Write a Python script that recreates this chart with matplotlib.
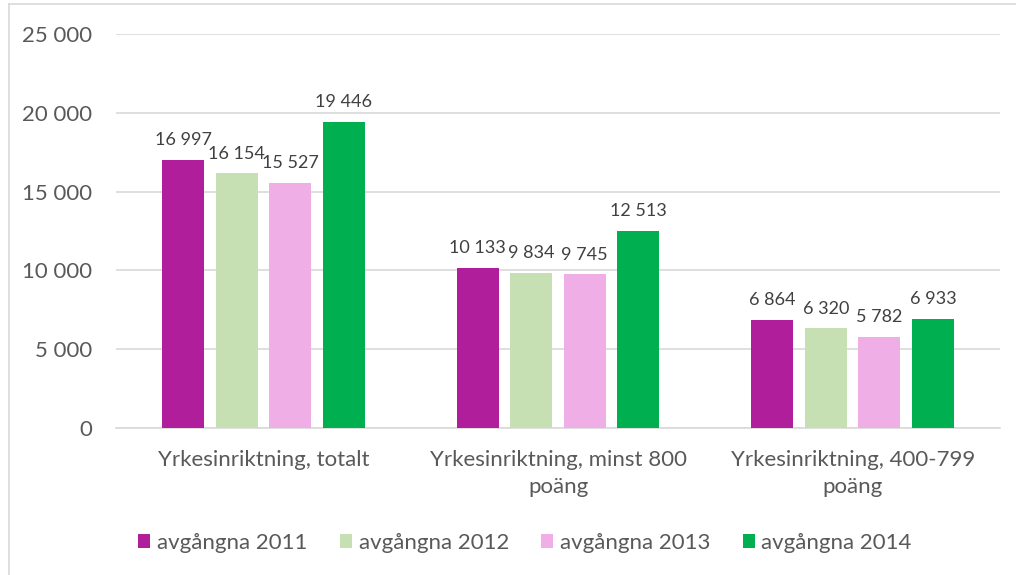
import matplotlib
matplotlib.use("Agg")
import matplotlib.pyplot as plt
from matplotlib.patches import Patch
from matplotlib.lines import Line2D
import numpy as np

categories = ["Yrkesinriktning, totalt", "Yrkesinriktning, minst 800\npoäng", "Yrkesinriktning, 400-799\npoäng"]
series_names = ["avgångna 2011", "avgångna 2012", "avgångna 2013", "avgångna 2014"]
v2011 = [16997, 10133, 6864]
v2012 = [16154, 9834, 6320]
v2013 = [15527, 9745, 5782]
v2014 = [19446, 12513, 6933]
colors = ["#B01E9B", "#C6E0B4", "#F0AEE6", "#00B050"]
yticks = [0, 5000, 10000, 15000, 20000, 25000]

def fmt(v):
    return f"{v:,}".replace(",", " ")

plt.rcParams['font.family'] = ['Lato', 'DejaVu Sans']
text_color = "#595959"

fig = plt.figure(figsize=(10.16, 5.75), dpi=100)
ax = fig.add_axes([116/1016, 1-428/575, (1000-116)/1016, (428-34)/575])

x = np.arange(len(categories))
bw = 0.1425
step = 0.1815
all_vals = [v2011, v2012, v2013, v2014]
for i, (vals, c, name) in enumerate(zip(all_vals, colors, series_names)):
    pos = x + (i - 1.5) * step
    ax.bar(pos, vals, width=bw, color=c, label=name, zorder=3)
    for p, v in zip(pos, vals):
        ax.text(p, v + 750, fmt(v), ha="center", va="bottom", fontsize=13, color="#404040")

ax.set_xlim(-0.5, 2.5)
ax.set_ylim(0, 25000)
ax.set_yticks(yticks)
ax.set_yticklabels([fmt(v) for v in yticks], fontsize=16, color=text_color)
ax.set_xticks(x)
ax.set_xticklabels(categories, fontsize=16, color=text_color, linespacing=1.42)
ax.tick_params(axis="both", length=0)
ax.tick_params(axis="y", pad=17)
ax.tick_params(axis="x", pad=16)
ax.grid(axis="y", color="#D9D9D9", linewidth=1.2, zorder=0)
for s in ["top", "right", "left"]:
    ax.spines[s].set_visible(False)
ax.spines["bottom"].set_color("#D9D9D9")
ax.spines["bottom"].set_linewidth(1.2)

handles = [Patch(facecolor=c, edgecolor="none") for c in colors]
fig.legend(handles, series_names, loc="center", bbox_to_anchor=(525/1016, 1-543/575),
           ncol=4, frameon=False, fontsize=16, labelcolor=text_color,
           handlelength=0.55, handleheight=0.55, handletextpad=0.3, columnspacing=1.45)

# outer chart border (only top and left visible)
fig.add_artist(Line2D([9/1016, 9/1016], [0, 1-4/575], transform=fig.transFigure, color="#D9D9D9", linewidth=1.2))
fig.add_artist(Line2D([9/1016, 1], [1-4/575, 1-4/575], transform=fig.transFigure, color="#D9D9D9", linewidth=1.2))

fig.savefig("out.png", dpi=100)
